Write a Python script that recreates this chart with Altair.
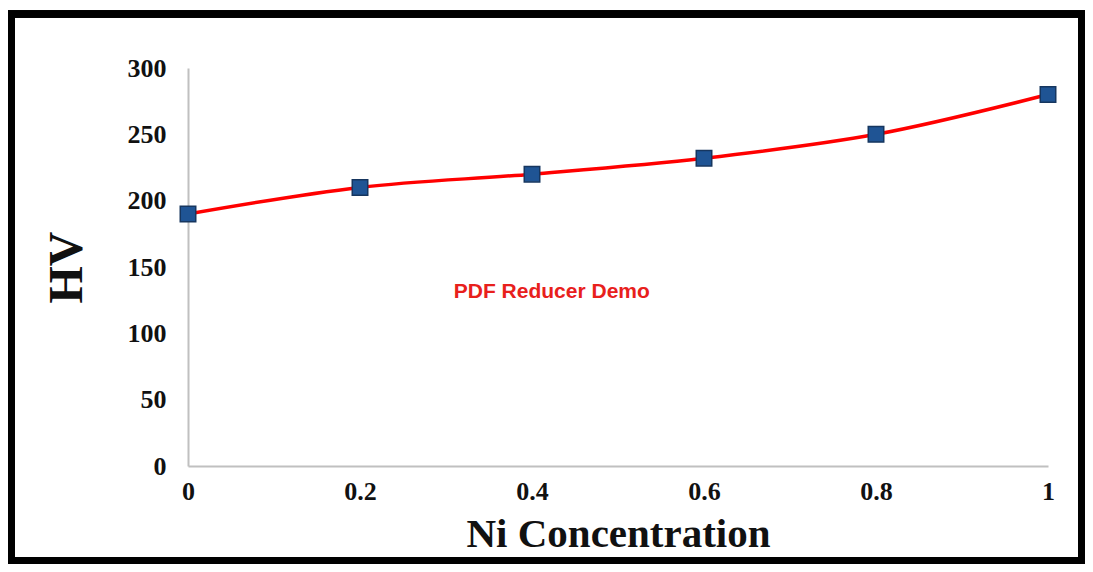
import altair as alt
import pandas as pd

ni_conc = [0, 0.2, 0.4, 0.6, 0.8, 1.0]
hv = [190, 210, 220, 232, 250, 280]
x_ticks = [0, 0.2, 0.4, 0.6, 0.8, 1.0]
y_ticks = [0, 50, 100, 150, 200, 250, 300]

df = pd.DataFrame({"ni": ni_conc, "hv": hv})
wm = pd.DataFrame({"ni": [0.423], "hv": [131], "t": ["PDF Reducer Demo"]})

W, H = 860, 398
PL, PT, PR, PB = 180, 60, 37, 98

x = alt.X("ni:Q", scale=alt.Scale(domain=[0, 1], nice=False),
          axis=alt.Axis(values=x_ticks, title="Ni Concentration", grid=False,
                        ticks=False, domain=True, domainColor="#c0c0c0", domainWidth=2,
                        labelFont="Liberation Serif", labelFontWeight="bold", labelFontSize=26,
                        labelColor="#111111", labelPadding=12, labelExpr="format(datum.value, '~g')",
                        titleFont="Liberation Serif", titleFontWeight="bold", titleFontSize=41,
                        titleColor="#111111", titlePadding=10, labelFlush=False))
y = alt.Y("hv:Q", scale=alt.Scale(domain=[0, 300], nice=False),
          axis=alt.Axis(values=y_ticks, title="HV", grid=False, ticks=False,
                        domain=True, domainColor="#c0c0c0", domainWidth=2,
                        labelFont="Liberation Serif", labelFontWeight="bold", labelFontSize=26,
                        labelColor="#111111", labelPadding=22,
                        titleFont="Liberation Serif", titleFontWeight="bold", titleFontSize=48,
                        titleColor="#111111", titlePadding=36))

base = alt.Chart(df)
line = base.mark_line(color="#ff0000", strokeWidth=3.5, interpolate="cardinal").encode(x=x, y=y)
pts = base.mark_square(size=240, color="#1f5494", stroke="#16365f", strokeWidth=1.5,
                       opacity=1).encode(x="ni:Q", y="hv:Q")
label = alt.Chart(wm).mark_text(font="Liberation Sans", fontWeight="bold", fontSize=21,
                                color="#e8201c").encode(x="ni:Q", y="hv:Q", text="t:N")
frame = alt.Chart(df).mark_rect(fill=None, filled=False, stroke="#000000", strokeWidth=7).encode(
    x=alt.value(-176.5), x2=alt.value(893.5), y=alt.value(-54), y2=alt.value(492.5))

chart = alt.layer(line, pts, label, frame).properties(
    width=W, height=H,
    background="white",
    padding={"left": PL, "top": PT, "right": PR, "bottom": PB},
    autosize=alt.AutoSizeParams(type="none"),
).configure_view(strokeWidth=0, stroke="transparent")

chart.save("out.html", embed_options={"renderer": "svg", "actions": False})
